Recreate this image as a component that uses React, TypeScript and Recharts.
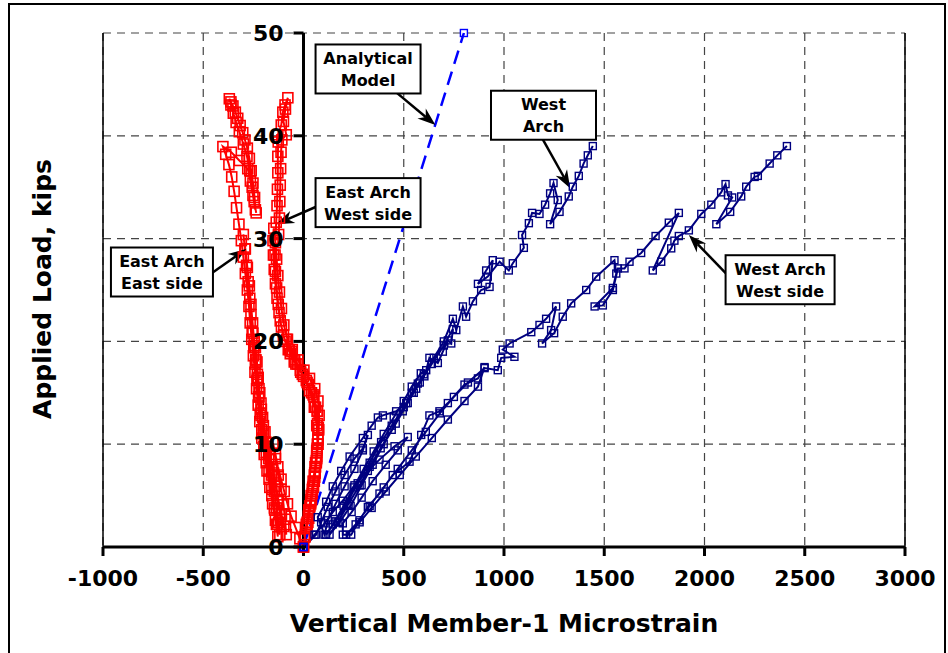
import {
  ComposedChart,
  Line,
  XAxis,
  YAxis,
  CartesianGrid,
  ReferenceLine,
  ReferenceDot,
} from 'recharts'

// axis ticks
const strainTicks = [-1000, -500, 0, 500, 1000, 1500, 2000, 2500, 3000]
const loadTicks = [0, 10, 20, 30, 40, 50]

// [microstrain, kips]
const analyticalModel = [
  [0, 0],
  [800, 50],
]

const eastArchEastSide = [
  [0, 0], [-18, 0.8], [-40, 1.9], [-62, 3.0], [-80, 4.2], [-96, 5.4], [-112, 6.6], [-128, 7.8], [-140, 9.0], [-152, 10.1],
  [-140, 8.6], [-126, 7.0], [-112, 5.6], [-100, 4.1], [-92, 2.7], [-86, 1.2],
  [-98, 2.0], [-110, 3.2], [-125, 4.5], [-138, 5.9], [-150, 7.2], [-165, 8.5], [-178, 9.8], [-192, 11.2], [-204, 12.6],
  [-212, 14.0], [-222, 15.4], [-230, 16.8], [-238, 18.2], [-246, 19.6], [-252, 20.8],
  [-240, 19.4], [-232, 18.0], [-226, 16.5], [-218, 15.0], [-210, 13.4], [-200, 11.8], [-188, 10.2], [-174, 8.6],
  [-160, 7.0], [-146, 5.4], [-134, 3.8], [-124, 2.4], [-118, 1.2],
  [-130, 2.2], [-144, 3.6], [-158, 5.0], [-172, 6.6], [-186, 8.2], [-198, 9.8], [-208, 11.4], [-216, 13.0], [-224, 14.6],
  [-232, 16.2], [-240, 17.8], [-248, 19.4], [-256, 21.0], [-262, 22.6], [-268, 24.2], [-276, 25.8], [-284, 27.4],
  [-292, 29.0], [-300, 30.4],
  [-290, 29.0], [-280, 27.2], [-270, 25.4], [-262, 23.6], [-254, 21.8], [-246, 20.0], [-238, 18.2], [-230, 16.4],
  [-222, 14.6], [-212, 12.8], [-200, 11.0], [-186, 9.2], [-172, 7.4], [-158, 5.6], [-145, 3.8], [-135, 2.2], [-128, 1.0],
  [-140, 2.6], [-154, 4.2], [-168, 5.8], [-182, 7.4], [-196, 9.0], [-208, 10.6], [-218, 12.2], [-226, 13.8], [-234, 15.4],
  [-242, 17.0], [-250, 18.6], [-258, 20.2], [-266, 21.8], [-272, 23.4], [-280, 25.0], [-290, 26.6], [-300, 28.2],
  [-310, 29.8], [-322, 31.4], [-334, 33.0], [-346, 34.6], [-358, 36.0], [-372, 37.2], [-388, 38.2], [-402, 38.95],
  [-360, 38.4], [-320, 37.6], [-278, 36.8], [-265, 35.6], [-252, 34.2], [-240, 32.8],
  [-244, 34.0], [-252, 35.4], [-261, 36.6], [-270, 37.8], [-280, 38.8], [-292, 39.6], [-303, 40.3], [-316, 41.0],
  [-328, 41.7], [-340, 42.3], [-352, 42.9], [-362, 43.3], [-370, 43.6],
  [-362, 43.0], [-350, 42.2], [-336, 41.3], [-320, 40.4], [-300, 39.2], [-282, 38.0], [-268, 36.6], [-256, 35.0],
  [-246, 33.6], [-236, 32.5],
]

const eastArchWestSide = [
  [0, 0], [8, 1.0], [18, 2.2], [28, 3.4], [38, 4.6], [46, 5.8], [54, 7.0], [60, 8.2], [66, 9.4], [72, 10.6],
  [66, 9.2], [58, 7.8], [48, 6.4], [38, 5.0], [26, 3.6], [14, 2.2], [4, 1.0],
  [12, 1.8], [24, 3.0], [36, 4.4], [48, 5.8], [58, 7.2], [66, 8.6], [72, 10.0], [76, 11.4], [78, 12.8], [72, 14.2],
  [56, 15.4], [30, 16.4], [2, 17.2], [-28, 18.2], [-56, 19.2], [-84, 20.2],
  [-70, 19.2], [-44, 18.2], [-16, 17.2], [14, 16.2], [40, 15.0], [60, 13.6], [70, 12.0], [72, 10.4], [66, 8.8],
  [56, 7.2], [44, 5.6], [32, 4.0], [18, 2.4], [6, 1.0],
  [16, 2.0], [30, 3.6], [44, 5.2], [56, 6.8], [64, 8.4], [70, 10.0], [74, 11.6], [70, 13.2], [52, 14.6], [24, 15.8],
  [-6, 16.8], [-38, 17.8], [-66, 18.8], [-92, 20.0], [-110, 21.4], [-122, 22.8], [-132, 24.2], [-140, 25.6],
  [-146, 27.0], [-150, 28.4], [-152, 29.8], [-148, 31.0],
  [-140, 29.6], [-134, 28.0], [-128, 26.4], [-120, 24.8], [-110, 23.2], [-98, 21.6], [-80, 20.2], [-58, 19.0],
  [-30, 17.8], [0, 16.6], [30, 15.2], [54, 13.6], [66, 11.8], [70, 10.0], [64, 8.2], [54, 6.4], [40, 4.6], [26, 2.8], [10, 1.2],
  [22, 2.4], [36, 4.2], [50, 6.0], [60, 7.8], [68, 9.6], [72, 11.4], [68, 13.2], [48, 14.8], [18, 16.0], [-14, 17.0],
  [-46, 18.0], [-76, 19.2], [-100, 20.6], [-116, 22.0], [-126, 23.6], [-134, 25.2], [-140, 26.8], [-142, 28.4],
  [-140, 30.0], [-136, 31.6], [-132, 33.2], [-130, 34.8], [-128, 36.4], [-128, 38.0], [-126, 39.4], [-128, 40.1],
  [-111, 41.05], [-103, 42.3], [-92, 43.0], [-78, 43.7],
  [-90, 42.6], [-100, 41.4], [-86, 40.1], [-108, 39.6], [-112, 38.4], [-114, 36.8], [-116, 35.2], [-118, 33.6],
  [-120, 32.0], [-124, 30.4],
]

const westArch = [
  [0, 0], [63, 1.2], [88, 2.4], [121, 3.9], [160, 5.4], [205, 7.0], [254, 8.6], [296, 9.6], [321, 10.9],
  [296, 9.4], [254, 7.6], [205, 5.9], [160, 4.2], [121, 2.6], [105, 1.2],
  [71, 2.9], [113, 4.4], [146, 5.9], [188, 7.4], [230, 8.8], [296, 10.6], [340, 11.8], [371, 12.6], [396, 12.8],
  [462, 13.2], [512, 14.0], [540, 15.0], [570, 15.9], [603, 16.6],
  [562, 15.4], [500, 13.6], [440, 11.8], [387, 10.2], [330, 8.2], [270, 6.2], [215, 4.2], [160, 2.5], [113, 1.2],
  [146, 2.2], [200, 4.0], [250, 5.8], [300, 7.6], [350, 9.3], [400, 11.0], [450, 12.6], [500, 14.2], [540, 15.6],
  [585, 16.9], [612, 17.2], [628, 18.4], [670, 17.9], [695, 19.0], [720, 20.1], [737, 19.8], [745, 21.2],
  [700, 19.6], [640, 17.8], [580, 16.0], [520, 14.0], [460, 12.0], [400, 10.0], [345, 8.0], [290, 6.0], [235, 4.0],
  [180, 2.4], [130, 1.2],
  [170, 2.4], [225, 4.2], [280, 6.0], [330, 7.8], [385, 9.6], [440, 11.4], [495, 13.2], [550, 15.0], [600, 16.8],
  [650, 18.4], [700, 20.0], [745, 22.2], [762, 21.1], [795, 23.4], [811, 22.4], [845, 23.9], [886, 25.0], [928, 25.3],
  [944, 27.9],
  [911, 26.9], [870, 25.6], [919, 26.3], [978, 27.75], [1024, 26.9], [1044, 27.6], [1099, 29.1], [1090, 30.35],
  [1124, 31.5], [1140, 32.5], [1177, 32.4], [1205, 33.3], [1230, 34.4], [1247, 35.4],
  [1268, 33.75], [1230, 31.4], [1277, 32.6], [1323, 34.1], [1343, 35.05], [1373, 36.1], [1397, 37.3], [1418, 38.1],
  [1443, 39.0],
]

const westArchWestSide = [
  [0, 0], [55, 1.2], [105, 2.3], [146, 3.4], [196, 4.5], [254, 6.0], [321, 7.4], [379, 8.5], [454, 9.8], [520, 10.7],
  [470, 9.4], [410, 8.0], [345, 6.4], [290, 4.8], [240, 3.4], [196, 2.3], [196, 1.2],
  [238, 1.2], [279, 2.6], [321, 3.9], [379, 5.2], [445, 7.0], [529, 8.3], [587, 10.9], [628, 12.8], [678, 13.2],
  [720, 14.0], [803, 15.8], [870, 16.4], [903, 17.5],
  [870, 15.6], [803, 14.2], [720, 12.4], [640, 10.6], [560, 8.8], [480, 7.0], [410, 5.4], [340, 3.8], [280, 2.4], [213, 1.2],
  [260, 2.2], [330, 4.0], [400, 5.8], [470, 7.6], [540, 9.4], [610, 11.2], [680, 13.0], [750, 14.6], [820, 16.0],
  [903, 17.4], [969, 17.2], [986, 18.4], [1052, 18.5], [994, 19.2], [1028, 19.8], [1136, 20.9], [1177, 21.6],
  [1210, 22.2], [1260, 23.4],
  [1235, 21.1], [1190, 19.8], [1250, 20.8], [1293, 22.4], [1335, 23.7], [1410, 25.0], [1460, 26.3], [1551, 27.9],
  [1560, 26.6], [1543, 25.2], [1452, 23.4], [1493, 23.5], [1543, 25.0], [1568, 27.1], [1601, 27.1], [1626, 27.75],
  [1684, 28.6], [1756, 30.25], [1822, 31.55], [1872, 32.5],
  [1742, 26.9], [1784, 27.75], [1834, 29.05], [1850, 29.8], [1872, 30.25], [1922, 30.8], [1984, 32.4], [2034, 33.3],
  [2083, 34.5], [2105, 35.3],
  [2117, 34.2], [2138, 34.0], [2059, 31.4], [2128, 32.6], [2183, 34.1], [2208, 35.05], [2250, 36.0], [2266, 36.1],
  [2325, 37.3], [2363, 38.1], [2411, 39.0],
]

// callouts: text lines, box centre and arrow (in chart units)
const callouts = [
  { lines: ['Analytical', 'Model'], at: [322, 46.5], w: 105, from: [464, 44.2], tip: [658, 41.05] },
  { lines: ['West', 'Arch'], at: [1197, 42.0], w: 105, from: [1192, 39.7], tip: [1330, 34.9] },
  { lines: ['East Arch', 'West side'], at: [322, 33.5], w: 105, from: [63, 33.1], tip: [-136, 31.4] },
  { lines: ['East Arch', 'East side'], at: [-706, 26.75], w: 102, from: [-460, 26.6], tip: [-286, 29.0] },
  { lines: ['West Arch', 'West side'], at: [2377, 26.0], w: 109, from: [2108, 26.6], tip: [1922, 30.35] },
]

const FONT = '"DejaVu Sans", Verdana, sans-serif'

const toPoints = (arr: number[][]) => arr.map(([x, y]) => ({ x, y }))

const squareDot = (size: number, color: string, sw: number) => (p: any) => {
  if (p.cx == null || p.cy == null) return <g key={`n-${p.index}`} />
  return (
    <rect
      key={`d-${p.index}`}
      x={p.cx - size / 2}
      y={p.cy - size / 2}
      width={size}
      height={size}
      fill="none"
      stroke={color}
      strokeWidth={sw}
    />
  )
}

const LoadTick = ({ cx, cy, value }: any) => (
  <g>
    <line x1={cx - 10} y1={cy} x2={cx} y2={cy} stroke="#000" strokeWidth={3} />
    <text
      x={cx - 20}
      y={cy + 8}
      textAnchor="end"
      fontFamily={FONT}
      fontWeight="bold"
      fontSize={22}
      fill="#000"
    >
      {value}
    </text>
  </g>
)

const CalloutBox = ({ cx, cy, lines, w }: any) => (
  <g>
    <rect x={cx - w / 2} y={cy - 24.5} width={w} height={49} fill="#fff" stroke="#000" strokeWidth={2} />
    {lines.map((t: string, i: number) => (
      <text
        key={t}
        x={cx}
        y={cy - 5 + i * 22}
        textAnchor="middle"
        fontFamily={FONT}
        fontWeight="bold"
        fontSize={16}
        fill="#000"
      >
        {t}
      </text>
    ))}
  </g>
)

const Arrow = ({ x1, y1, x2, y2 }: any) => {
  const dx = x2 - x1
  const dy = y2 - y1
  const len = Math.hypot(dx, dy) || 1
  const ux = dx / len
  const uy = dy / len
  const nx = -uy
  const ny = ux
  const head = 18
  const half = 6.5
  const bx = x2 - ux * head
  const by = y2 - uy * head
  const mx = x2 - ux * head * 0.7
  const my = y2 - uy * head * 0.7
  const pts = [
    [x2, y2],
    [bx + nx * half, by + ny * half],
    [mx, my],
    [bx - nx * half, by - ny * half],
  ]
  return (
    <g>
      <line x1={x1} y1={y1} x2={mx} y2={my} stroke="#000" strokeWidth={2.5} />
      <polygon points={pts.map((p) => p.join(',')).join(' ')} fill="#000" />
    </g>
  )
}

export default function App() {
  return (
    <div style={{ position: 'absolute', left: 0, top: 0, width: 948, height: 653, background: '#fff' }}>
      <div
        style={{
          position: 'absolute',
          left: 8,
          top: 3,
          width: 938,
          height: 650,
          borderTop: '2px solid #000',
          borderLeft: '2px solid #000',
          borderRight: '2px solid #000',
          boxSizing: 'border-box',
        }}
      />
      <div style={{ position: 'absolute', left: 0, top: 0 }}>
        <ComposedChart width={948} height={653} margin={{ top: 33, right: 43, left: 103, bottom: 16 }}>
          <CartesianGrid stroke="#444" strokeWidth={1.2} strokeDasharray="8 6" />
          <XAxis
            type="number"
            dataKey="x"
            domain={[-1000, 3000]}
            ticks={strainTicks}
            interval={0}
            height={90}
            axisLine={{ stroke: '#000', strokeWidth: 3 }}
            tickLine={{ stroke: '#000', strokeWidth: 3 }}
            tickSize={9}
            tickMargin={14}
            tick={{ fill: '#000', fontSize: 22, fontWeight: 'bold', fontFamily: FONT }}
            label={{
              value: 'Vertical Member-1 Microstrain',
              position: 'insideBottom',
              offset: 5,
              style: { fill: '#000', fontSize: 25, fontWeight: 'bold', fontFamily: FONT },
            }}
          />
          <YAxis type="number" dataKey="y" domain={[0, 50]} ticks={loadTicks} hide />
          <ReferenceLine x={-1000} stroke="#000" strokeWidth={1.5} />
          <ReferenceLine x={3000} stroke="#000" strokeWidth={1.5} />
          <ReferenceLine x={0} stroke="#000" strokeWidth={3} />

          <Line
            data={toPoints(eastArchEastSide)}
            dataKey="y"
            type="linear"
            stroke="#ff0000"
            strokeWidth={2}
            dot={squareDot(10, '#ff0000', 1.6)}
            activeDot={false}
            isAnimationActive={false}
          />
          <Line
            data={toPoints(eastArchWestSide)}
            dataKey="y"
            type="linear"
            stroke="#ff0000"
            strokeWidth={2}
            dot={squareDot(10, '#ff0000', 1.6)}
            activeDot={false}
            isAnimationActive={false}
          />
          <Line
            data={toPoints(westArch)}
            dataKey="y"
            type="linear"
            stroke="#000080"
            strokeWidth={2}
            dot={squareDot(7, '#000080', 1.4)}
            activeDot={false}
            isAnimationActive={false}
          />
          <Line
            data={toPoints(westArchWestSide)}
            dataKey="y"
            type="linear"
            stroke="#000080"
            strokeWidth={2}
            dot={squareDot(7, '#000080', 1.4)}
            activeDot={false}
            isAnimationActive={false}
          />
          <Line
            data={toPoints(analyticalModel)}
            dataKey="y"
            type="linear"
            stroke="#0000ff"
            strokeWidth={2.5}
            strokeDasharray="14 8"
            dot={squareDot(7, '#0000ff', 1.4)}
            activeDot={false}
            isAnimationActive={false}
          />

          {loadTicks.map((v) => (
            <ReferenceDot
              key={`t${v}`}
              x={0}
              y={v}
              r={0}
              shape={(p: any) => <LoadTick {...p} value={v} />}
            />
          ))}

          {callouts.map((c, i) => (
            <ReferenceLine
              key={`a${i}`}
              segment={[
                { x: c.from[0], y: c.from[1] },
                { x: c.tip[0], y: c.tip[1] },
              ]}
              shape={(p: any) => <Arrow {...p} />}
            />
          ))}
          {callouts.map((c, i) => (
            <ReferenceDot
              key={`b${i}`}
              x={c.at[0]}
              y={c.at[1]}
              r={0}
              shape={(p: any) => <CalloutBox {...p} lines={c.lines} w={c.w} />}
            />
          ))}
        </ComposedChart>
      </div>
      <svg width={948} height={653} style={{ position: 'absolute', left: 0, top: 0, pointerEvents: 'none' }}>
        <text
          transform="translate(51,289) rotate(-90)"
          textAnchor="middle"
          fontFamily={FONT}
          fontWeight="bold"
          fontSize={25}
          fill="#000"
        >
          Applied Load, kips
        </text>
      </svg>
    </div>
  )
}
